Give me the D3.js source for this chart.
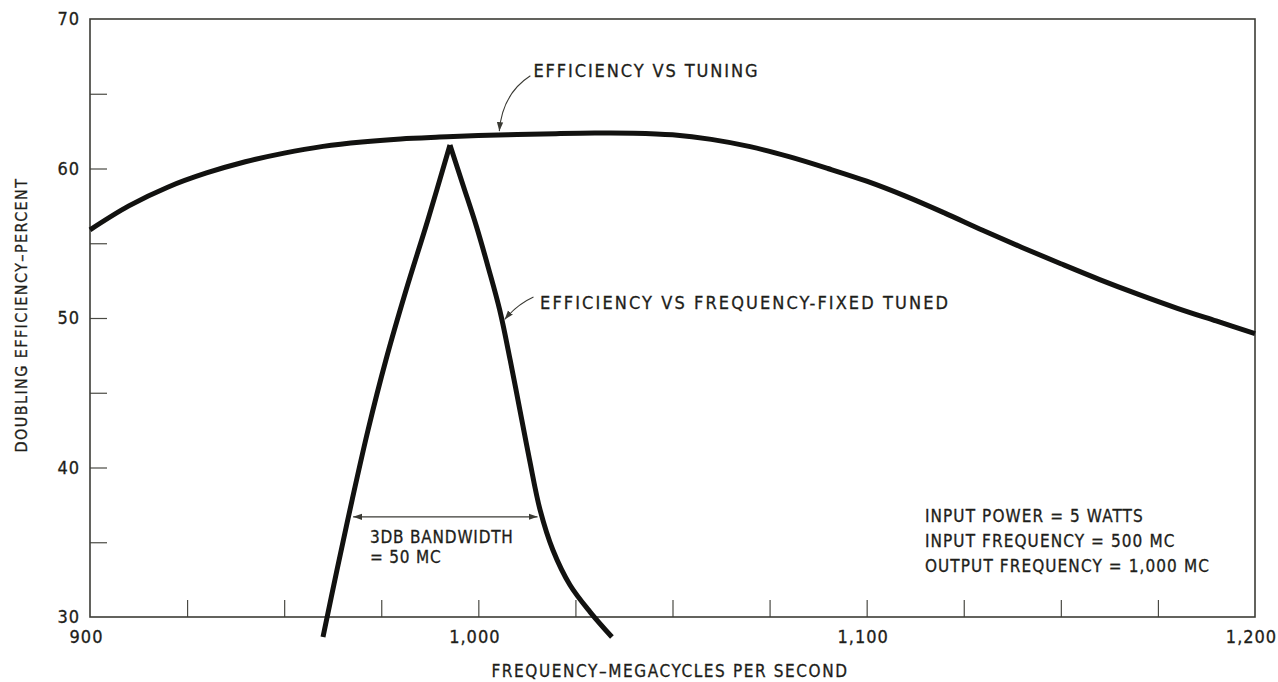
<!DOCTYPE html>
<html>
<head>
<meta charset="utf-8">
<script src="https://cdn.jsdelivr.net/npm/d3@7"></script>
<style>
  html, body { margin: 0; padding: 0; background: #fff; }
  svg { display: block; }
  text { font-family: "DejaVu Sans Condensed", "DejaVu Sans", sans-serif; fill: #1e1e1a; stroke: #1e1e1a; stroke-width: 0.3px; }
</style>
</head>
<body>
<svg id="chart" width="1278" height="682"></svg>
<script>
// Frequency (MC) and doubling efficiency (%) for the tuned-at-each-frequency curve
const tuningFreq = [900, 910, 920, 930, 940, 950, 960, 970, 980, 990, 1000, 1010, 1020, 1030, 1040, 1050,
                    1060, 1070, 1080, 1090, 1100, 1110, 1120, 1130, 1140, 1150, 1160, 1170, 1180, 1190, 1200];
const tuningEff  = [55.9, 57.5, 58.75, 59.7, 60.45, 61.03, 61.48, 61.78, 61.98, 62.1, 62.2, 62.27, 62.33, 62.37, 62.36, 62.25,
                    61.95, 61.46, 60.79, 60.0, 59.15, 58.15, 57.03, 55.85, 54.72, 53.63, 52.57, 51.58, 50.65, 49.8, 48.96];

// Fixed-tuned response: rising branch up to the peak, then the falling branch
const fixedRiseFreq = [960.0, 963.6, 967.5, 971.6, 976.2, 981.4, 987.0, 992.7];
const fixedRiseEff  = [28.66, 33.14, 37.83, 42.51, 47.19, 51.87, 56.56, 61.57];
const fixedFallFreq = [992.7, 996.05, 999.4, 1002.6, 1005.5, 1008.2, 1010.7, 1013.2, 1015.9, 1019.2, 1023.6, 1028.8, 1034.4];
const fixedFallEff  = [61.57, 58.9, 56.22, 53.34, 50.54, 47.19, 43.85, 40.5, 37.16, 34.48, 32.14, 30.33, 28.66];

// 3 dB bandwidth marker (MC and efficiency level)
const bandwidthFreq = [967.5, 1015.5];
const bandwidthLevel = 36.7;

// Axis ticks and labels
const xLabelValues = [900, 1000, 1100, 1200];
const xMinorTicks = [925, 950, 975, 1000, 1025, 1050, 1075, 1100, 1125, 1150, 1175];
const yLabelValues = [30, 40, 50, 60, 70];
const yMinorTicks = [35, 40, 45, 50, 55, 60, 65];

const xTitle = "FREQUENCY\u2013MEGACYCLES PER SECOND";
const yTitle = "DOUBLING EFFICIENCY\u2013PERCENT";
const noteLines = ["INPUT POWER = 5 WATTS", "INPUT FREQUENCY = 500 MC", "OUTPUT FREQUENCY = 1,000 MC"];
const bandwidthLines = ["3DB BANDWIDTH", "= 50 MC"];

const svg = d3.select("#chart");
const W = 1278, H = 682;
const margin = { top: 19, right: 23, bottom: 65, left: 90 };

const x = d3.scaleLinear().domain([900, 1200]).range([margin.left, W - margin.right]);
const y = d3.scaleLinear().domain([30, 70]).range([H - margin.bottom, margin.top]);

svg.append("rect").attr("width", W).attr("height", H).attr("fill", "#fff");

// Arrowhead markers
const defs = svg.append("defs");
defs.append("marker")
  .attr("id", "arrow").attr("viewBox", "0 0 10 10")
  .attr("refX", 10).attr("refY", 5)
  .attr("markerWidth", 9).attr("markerHeight", 9)
  .attr("markerUnits", "userSpaceOnUse")
  .attr("orient", "auto-start-reverse")
  .append("path").attr("d", "M0,1.5 L10,5 L0,8.5 Z").attr("fill", "#3a3a34");

// Minor ticks, pointing into the plot
svg.append("g")
  .attr("transform", `translate(0,${y(30)})`)
  .call(d3.axisBottom(x).tickValues(xMinorTicks).tickSize(-17).tickFormat(""))
  .call(g => g.select(".domain").remove())
  .call(g => g.selectAll("line").attr("stroke", "#4a4a44").attr("stroke-width", 1.2));

svg.append("g")
  .attr("transform", `translate(${x(900)},0)`)
  .call(d3.axisLeft(y).tickValues(yMinorTicks).tickSize(-17).tickFormat(""))
  .call(g => g.select(".domain").remove())
  .call(g => g.selectAll("line").attr("stroke", "#4a4a44").attr("stroke-width", 1.2));

// Tick labels
svg.append("g")
  .attr("transform", `translate(0,${y(30)})`)
  .call(d3.axisBottom(x).tickValues(xLabelValues).tickSize(0).tickPadding(13).tickFormat(d3.format(",")))
  .call(g => g.select(".domain").remove())
  .call(g => g.selectAll("text")
    .attr("dx", -4).style("font-size", "18px").style("letter-spacing", "1px")
    .attr("fill", "#1e1e1a"));

svg.append("g")
  .attr("transform", `translate(${x(900)},0)`)
  .call(d3.axisLeft(y).tickValues(yLabelValues).tickSize(0).tickPadding(10).tickFormat(d3.format("d")))
  .call(g => g.select(".domain").remove())
  .call(g => g.selectAll("text")
    .style("font-size", "18px").style("letter-spacing", "1px")
    .attr("fill", "#1e1e1a"));

// Plot frame
svg.append("rect")
  .attr("x", x(900)).attr("y", y(70))
  .attr("width", x(1200) - x(900)).attr("height", y(30) - y(70))
  .attr("fill", "none").attr("stroke", "#3c3c36").attr("stroke-width", 1.6);

// Axis titles
svg.append("text")
  .attr("x", 670).attr("y", 677)
  .attr("text-anchor", "middle")
  .style("font-size", "17px").style("letter-spacing", "1.6px")
  .text(xTitle);

svg.append("text")
  .attr("transform", `translate(27,${(y(30) + y(70)) / 2 - 3}) rotate(-90)`)
  .attr("text-anchor", "middle")
  .style("font-size", "16px").style("letter-spacing", "1.4px")
  .text(yTitle);

// Curves
const line = d3.line().x(d => x(d[0])).y(d => y(d[1])).curve(d3.curveCatmullRom.alpha(0.5));
const curveStyle = p => p.attr("fill", "none").attr("stroke", "#121210")
  .attr("stroke-width", 5).attr("stroke-linejoin", "round").attr("stroke-linecap", "butt");

svg.append("path")
  .datum(d3.zip(tuningFreq, tuningEff))
  .attr("d", line).call(curveStyle);

svg.append("path")
  .datum(d3.zip(fixedRiseFreq, fixedRiseEff))
  .attr("d", line).call(curveStyle);

svg.append("path")
  .datum(d3.zip(fixedFallFreq, fixedFallEff))
  .attr("d", line).call(curveStyle);

// 3 dB bandwidth arrow
svg.append("line")
  .attr("x1", x(bandwidthFreq[0]) + 1).attr("x2", x(bandwidthFreq[1]) - 1)
  .attr("y1", y(bandwidthLevel)).attr("y2", y(bandwidthLevel))
  .attr("stroke", "#3a3a34").attr("stroke-width", 1.1)
  .attr("marker-start", "url(#arrow)").attr("marker-end", "url(#arrow)");

svg.append("g").selectAll("text")
  .data(bandwidthLines).join("text")
  .attr("x", x(972.1))
  .attr("y", (d, i) => y(34.95) + i * 20)
  .style("font-size", "17px").style("letter-spacing", "0.8px")
  .text(d => d);

// Curve annotations with leader arrows
const tuningTip = [1005.4, 62.3];
svg.append("path")
  .attr("d", `M${x(1013.4)},${y(66.2)} Q${x(1006.2)},${y(65.0)} ${x(tuningTip[0])},${y(tuningTip[1]) - 3}`)
  .attr("fill", "none").attr("stroke", "#3a3a34").attr("stroke-width", 1.1)
  .attr("marker-end", "url(#arrow)");

svg.append("text")
  .attr("x", x(1014.2)).attr("y", y(66.1))
  .style("font-size", "18px").style("letter-spacing", "1.9px")
  .text("EFFICIENCY VS TUNING");

const fixedTip = [1006.0, 49.9];
svg.append("path")
  .attr("d", `M${x(1014.2)},${y(51.4)} Q${x(1010.0)},${y(50.9)} ${x(fixedTip[0]) + 3},${y(fixedTip[1])}`)
  .attr("fill", "none").attr("stroke", "#3a3a34").attr("stroke-width", 1.1)
  .attr("marker-end", "url(#arrow)");

svg.append("text")
  .attr("x", x(1015.9)).attr("y", y(50.6))
  .style("font-size", "18px").style("letter-spacing", "2.1px")
  .text("EFFICIENCY VS FREQUENCY-FIXED TUNED");

// Operating conditions
svg.append("g").selectAll("text")
  .data(noteLines).join("text")
  .attr("x", x(1115.0))
  .attr("y", (d, i) => y(36.35) + i * 25)
  .style("font-size", "17px").style("letter-spacing", "1.1px")
  .text(d => d);
</script>
</body>
</html>
